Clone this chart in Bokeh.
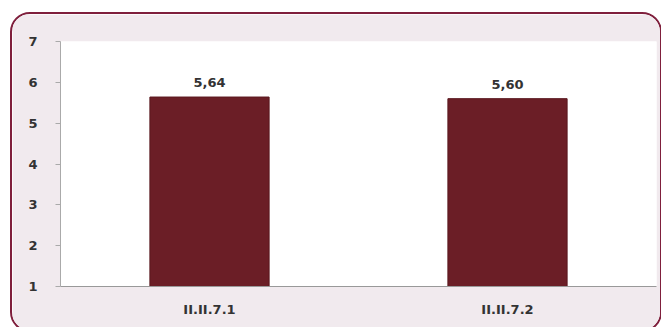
from bokeh.plotting import figure
from bokeh.models import ColumnDataSource, LabelSet, FixedTicker, Range1d
from bokeh.core.properties import value
from bokeh.embed import file_html
from bokeh.resources import INLINE

categories = ["II.II.7.1", "II.II.7.2"]
values = [5.64, 5.60]
labels = ["5,64", "5,60"]
y_ticks = [1, 2, 3, 4, 5, 6, 7]

src = ColumnDataSource(dict(cat=categories, val=values, lab=labels))

p = figure(x_range=categories, y_range=Range1d(1, 7), width=652, height=320,
           output_backend="svg", toolbar_location=None,
           min_border_left=48, min_border_right=8, min_border_top=27, min_border_bottom=48)
p.margin = (12, 0, 0, 10)
p.styles = {"border": "2px solid #7f1f3c", "border-radius": "20px", "overflow": "hidden",
            "box-sizing": "border-box"}
p.background_fill_color = "white"
p.border_fill_color = "#f1eaee"
p.outline_line_color = None
p.xgrid.grid_line_color = None
p.ygrid.grid_line_color = None

p.vbar(x="cat", top="val", bottom=1, width=0.4, source=src,
       fill_color="#6b1e26", line_color="#5a171e", line_width=1)

p.add_layout(LabelSet(x="cat", y="val", text="lab", source=src, y_offset=10,
                      text_align="center", text_baseline="bottom",
                      text_font=value("DejaVu Sans"), text_font_style="bold",
                      text_font_size="13px", text_color="#333333"))

p.yaxis.ticker = FixedTicker(ticks=y_ticks)
p.yaxis.major_label_text_font = "DejaVu Sans"
p.yaxis.major_label_text_font_style = "bold"
p.yaxis.major_label_text_font_size = "13px"
p.yaxis.major_label_text_color = "#333333"
p.yaxis.axis_line_color = "#aaaaaa"
p.yaxis.major_tick_line_color = "#aaaaaa"
p.yaxis.major_tick_out = 5
p.yaxis.major_tick_in = 0
p.yaxis.minor_tick_line_color = None
p.yaxis.major_label_standoff = 18

p.xaxis.major_label_text_font = "DejaVu Sans"
p.xaxis.major_label_text_font_style = "bold"
p.xaxis.major_label_text_font_size = "13px"
p.xaxis.major_label_text_color = "#333333"
p.xaxis.axis_line_color = "#999999"
p.xaxis.major_tick_line_color = None
p.xaxis.major_label_standoff = 9

open("out.html", "w").write(file_html(p, INLINE))
